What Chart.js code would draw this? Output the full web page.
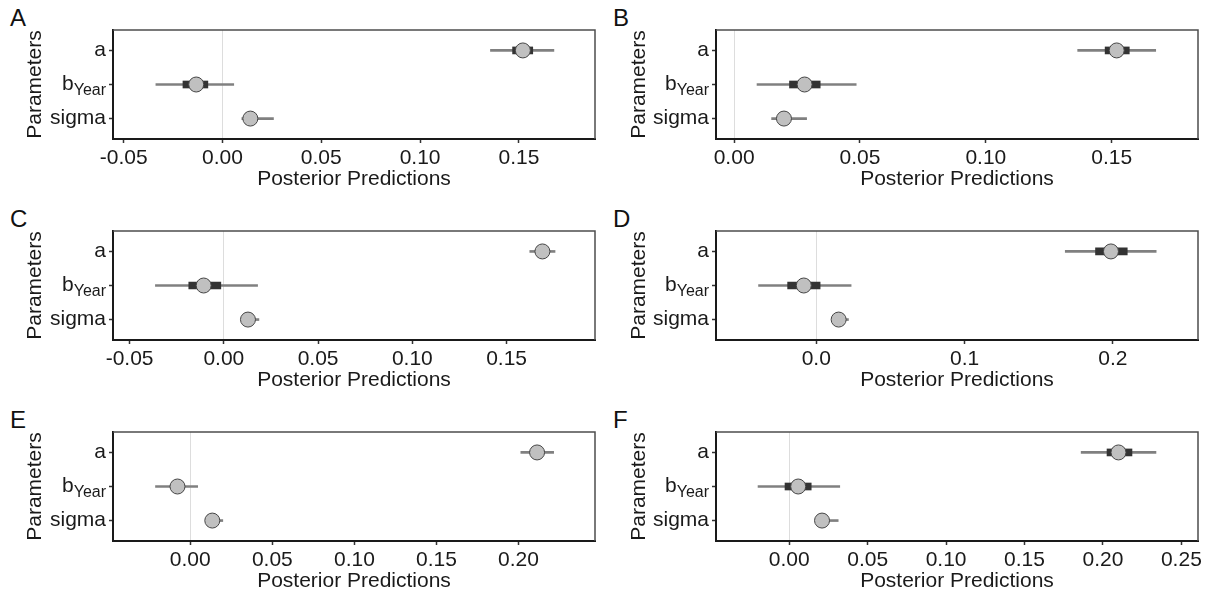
<!DOCTYPE html>
<html>
<head>
<meta charset="utf-8">
<title>Posterior predictions</title>
<script src="https://cdn.jsdelivr.net/npm/chart.js@4.4.1/dist/chart.umd.min.js"></script>
<style>
    body { margin: 0; background: #fff; width: 1212px; height: 595px; position: relative; overflow: hidden;
           font-family: "Liberation Sans", Arial, sans-serif; }
    canvas { position: absolute; }
    .tag { position: absolute; font-size: 24px; line-height: 1; color: #111; }
</style>
</head>
<body>
<div class="tag" style="left:10px;top:6px">A</div>
<div class="tag" style="left:613px;top:6px">B</div>
<div class="tag" style="left:10px;top:207px">C</div>
<div class="tag" style="left:613px;top:207px">D</div>
<div class="tag" style="left:10px;top:408px">E</div>
<div class="tag" style="left:613px;top:408px">F</div>

<canvas id="panelA" width="606" height="196" style="left:0;top:0"></canvas>
<canvas id="panelB" width="606" height="196" style="left:606px;top:0"></canvas>
<canvas id="panelC" width="606" height="196" style="left:0;top:201px"></canvas>
<canvas id="panelD" width="606" height="196" style="left:606px;top:201px"></canvas>
<canvas id="panelE" width="606" height="196" style="left:0;top:402px"></canvas>
<canvas id="panelF" width="606" height="196" style="left:606px;top:402px"></canvas>

<script>
const params = ['a', 'bYear', 'sigma'];
const paramPos = [1, 2, 3];

// A
const medA = [0.152, -0.0133, 0.0141];
const innerA = [[0.1468, 0.157], [-0.020, -0.0074], [0.0125, 0.016]];
const outerA = [[0.1356, 0.1677], [-0.0337, 0.0057], [0.0098, 0.0258]];
const ticksA = [-0.05, 0, 0.05, 0.10, 0.15];
const limitsA = [-0.0554, 0.1885];

// B
const medB = [0.152, 0.028, 0.0198];
const innerB = [[0.1474, 0.157], [0.022, 0.0342], [0.018, 0.022]];
const outerB = [[0.1365, 0.1675], [0.0091, 0.0485], [0.0149, 0.0288]];
const ticksB = [0, 0.05, 0.10, 0.15];
const limitsB = [-0.0072, 0.1843];

// C
const medC = [0.169, -0.0107, 0.0128];
const innerC = [[0.1665, 0.1715], [-0.0186, -0.0016], [0.0115, 0.0142]];
const outerC = [[0.1623, 0.1757], [-0.0363, 0.0179], [0.0097, 0.0186]];
const ticksC = [-0.05, 0, 0.05, 0.10, 0.15];
const limitsC = [-0.0588, 0.1969];

// D
const medD = [0.1987, -0.0084, 0.0151];
const innerD = [[0.1883, 0.2097], [-0.0193, 0.0026], [0.0135, 0.0168]];
const outerD = [[0.1679, 0.2292], [-0.0389, 0.0235], [0.0112, 0.0217]];
const ticksD = [0, 0.1, 0.2];
const limitsD = [-0.0676, 0.2574];

// E
const medE = [0.2113, -0.0078, 0.0134];
const innerE = [[0.208, 0.2146], [-0.0115, -0.004], [0.0118, 0.015]];
const outerE = [[0.2014, 0.2214], [-0.0212, 0.0045], [0.0099, 0.0198]];
const ticksE = [0, 0.05, 0.10, 0.15, 0.20];
const limitsE = [-0.0471, 0.2466];

// F
const medF = [0.2099, 0.0057, 0.0209];
const innerF = [[0.2026, 0.2185], [-0.0027, 0.014], [0.019, 0.0228]];
const outerF = [[0.1861, 0.2338], [-0.0199, 0.0322], [0.0167, 0.0312]];
const ticksF = [0, 0.05, 0.10, 0.15, 0.20, 0.25];
const limitsF = [-0.0467, 0.2606];

const FONT = '"Liberation Sans", Arial, sans-serif';
Chart.defaults.font.family = FONT;
Chart.defaults.font.size = 21;
Chart.defaults.color = '#1a1a1a';

// top and right edges of the panel box (left/bottom come from the axis borders)
const framePlugin = {
    id: 'frame',
    beforeDatasetsDraw(chart) {
        const {ctx, chartArea: {left, top, right, bottom}} = chart;
        ctx.save();
        ctx.strokeStyle = '#4d4d4d';
        ctx.lineWidth = 1.5;
        ctx.beginPath();
        ctx.moveTo(left, top);
        ctx.lineTo(right, top);
        ctx.lineTo(right, bottom);
        ctx.stroke();
        ctx.restore();
    }
};

// parameter names, with the subscript on b
const paramLabels = {
    id: 'paramLabels',
    afterDraw(chart) {
        const {ctx, scales: {y}} = chart;
        const xRight = y.right - 7;
        ctx.save();
        ctx.fillStyle = '#1a1a1a';
        ctx.textAlign = 'right';
        ctx.textBaseline = 'middle';
        params.forEach((p, i) => {
            const py = y.getPixelForValue(paramPos[i]);
            if (p === 'bYear') {
                ctx.font = '16px ' + FONT;
                const subW = ctx.measureText('Year').width;
                ctx.fillText('Year', xRight, py + 6);
                ctx.font = '21px ' + FONT;
                ctx.fillText('b', xRight - subW, py);
            } else {
                ctx.font = '21px ' + FONT;
                ctx.fillText(p, xRight, py);
            }
        });
        ctx.restore();
    }
};

function toBars(ranges) {
    return ranges.map((r, i) => ({x: r, y: paramPos[i]}));
}

function toPoints(vals) {
    return vals.map((v, i) => ({x: v, y: paramPos[i]}));
}

function makePanel(id, med, inner, outer, ticks, limits, decimals, rightCol) {
    new Chart(document.getElementById(id), {
        type: 'bar',
        data: {
            datasets: [{
                data: toBars(outer),
                backgroundColor: '#808080',
                barThickness: 2,
                grouped: false,
                order: 3
            }, {
                data: toBars(inner),
                backgroundColor: '#333333',
                barThickness: 7,
                grouped: false,
                order: 2
            }, {
                type: 'scatter',
                data: toPoints(med),
                pointRadius: 7.5,
                pointBackgroundColor: '#c0c0c0',
                pointBorderColor: '#454545',
                pointBorderWidth: 1,
                order: 1
            }]
        },
        options: {
            indexAxis: 'y',
            responsive: false,
            animation: false,
            layout: {padding: {top: 30, bottom: 0, left: rightCol ? 17 : 19, right: rightCol ? 14 : 11}},
            plugins: {legend: {display: false}, tooltip: {enabled: false}},
            scales: {
                x: {
                    type: 'linear',
                    min: limits[0],
                    max: limits[1],
                    afterBuildTicks: s => { s.ticks = ticks.map(v => ({value: v})); },
                    afterFit: s => { s.height = 57; },
                    ticks: {
                        callback: v => v.toFixed(decimals),
                        padding: 3,
                        maxRotation: 0,
                        autoSkip: false,
                        color: '#1a1a1a'
                    },
                    grid: {
                        color: c => (c.tick && c.tick.value === 0) ? '#dddddd' : 'rgba(0,0,0,0)',
                        tickColor: '#333',
                        tickLength: 4,
                        tickWidth: 1.5
                    },
                    border: {display: true, color: '#1a1a1a', width: 2},
                    title: {display: true, text: 'Posterior Predictions', color: '#1a1a1a'}
                },
                y: {
                    type: 'linear',
                    reverse: true,
                    offset: false,
                    min: 0.4,
                    max: 3.6,
                    afterBuildTicks: s => { s.ticks = paramPos.map(v => ({value: v})); },
                    afterFit: s => { s.width = rightCol ? 93 : 94; },
                    ticks: {color: 'rgba(0,0,0,0)'},
                    grid: {offset: false, drawOnChartArea: false, tickColor: '#333', tickLength: 4, tickWidth: 1.5},
                    border: {display: true, color: '#1a1a1a', width: 2},
                    title: {display: true, text: 'Parameters', color: '#1a1a1a'}
                }
            }
        },
        plugins: [framePlugin, paramLabels]
    });
}

makePanel('panelA', medA, innerA, outerA, ticksA, limitsA, 2, false);
makePanel('panelB', medB, innerB, outerB, ticksB, limitsB, 2, true);
makePanel('panelC', medC, innerC, outerC, ticksC, limitsC, 2, false);
makePanel('panelD', medD, innerD, outerD, ticksD, limitsD, 1, true);
makePanel('panelE', medE, innerE, outerE, ticksE, limitsE, 2, false);
makePanel('panelF', medF, innerF, outerF, ticksF, limitsF, 2, true);
</script>
</body>
</html>
